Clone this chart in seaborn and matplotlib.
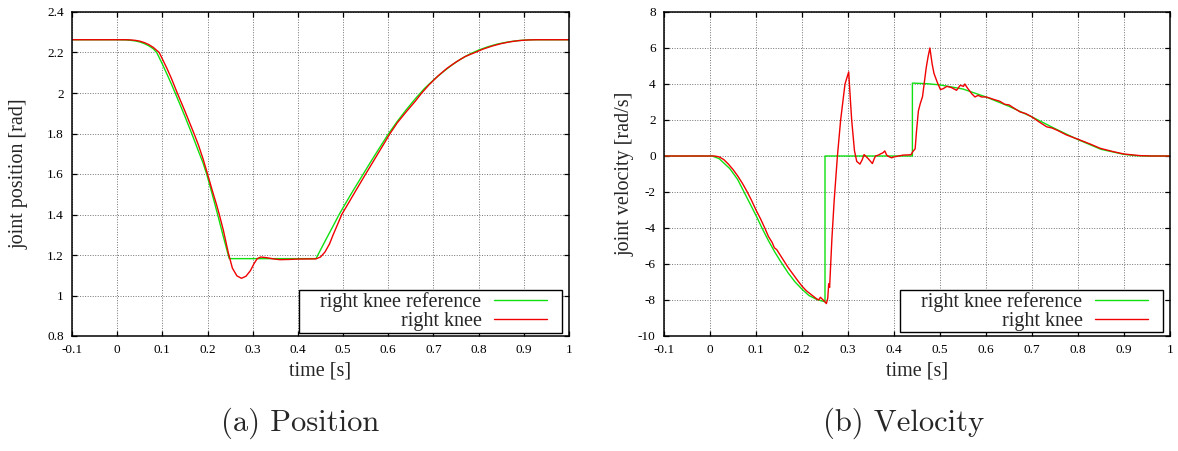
import matplotlib
matplotlib.use("Agg")
import matplotlib.pyplot as plt
from matplotlib.legend_handler import HandlerLine2D
import seaborn as sns
import pandas as pd

# ---------------- joint position [rad] ----------------
t_pos_ref = [-0.1, 0.0, 0.02, 0.03, 0.04, 0.05, 0.06, 0.07, 0.08, 0.0875, 0.10, 0.11,
             0.12, 0.128, 0.14, 0.15, 0.165, 0.18, 0.19, 0.198, 0.21, 0.222, 0.235,
             0.248, 0.44, 0.45, 0.46, 0.47, 0.48, 0.49, 0.50, 0.52, 0.54, 0.56, 0.58,
             0.60, 0.62, 0.64, 0.66, 0.68, 0.70, 0.72, 0.74, 0.76, 0.78, 0.80, 0.82,
             0.84, 0.86, 0.88, 0.90, 0.92, 1.0]
pos_ref = [2.263, 2.263, 2.262, 2.260, 2.257, 2.252, 2.244, 2.233, 2.218, 2.200, 2.143,
           2.094, 2.044, 2.002, 1.938, 1.884, 1.800, 1.712, 1.655, 1.600, 1.503, 1.403,
           1.290, 1.182, 1.182, 1.225, 1.268, 1.310, 1.352, 1.395, 1.434, 1.510, 1.583,
           1.656, 1.727, 1.797, 1.860, 1.918, 1.972, 2.022, 2.064, 2.102, 2.137, 2.167,
           2.192, 2.212, 2.228, 2.241, 2.250, 2.257, 2.261, 2.263, 2.263]

t_pos_act = [-0.1, 0.0, 0.02, 0.03, 0.04, 0.05, 0.06, 0.07, 0.08, 0.093, 0.10, 0.11,
             0.12, 0.133, 0.14, 0.15, 0.17, 0.18, 0.19, 0.20, 0.21, 0.22, 0.226, 0.235,
             0.246, 0.255, 0.265, 0.275, 0.285, 0.295, 0.303, 0.31, 0.318, 0.33, 0.345,
             0.36, 0.38, 0.40, 0.44, 0.45, 0.46, 0.47, 0.478, 0.488, 0.497, 0.51, 0.53,
             0.55, 0.57, 0.59, 0.604, 0.62, 0.64, 0.66, 0.674, 0.69, 0.71, 0.73, 0.75,
             0.77, 0.792, 0.81, 0.83, 0.85, 0.87, 0.89, 0.91, 0.93, 1.0]
pos_act = [2.263, 2.263, 2.263, 2.262, 2.260, 2.256, 2.249, 2.239, 2.225, 2.200, 2.168,
           2.122, 2.072, 2.000, 1.963, 1.910, 1.800, 1.742, 1.675, 1.600, 1.522, 1.448,
           1.400, 1.322, 1.210, 1.135, 1.097, 1.085, 1.095, 1.123, 1.158, 1.182, 1.190,
           1.187, 1.181, 1.177, 1.178, 1.180, 1.181, 1.190, 1.215, 1.255, 1.300, 1.352,
           1.400, 1.449, 1.525, 1.600, 1.674, 1.748, 1.800, 1.853, 1.908, 1.960, 2.000,
           2.040, 2.084, 2.122, 2.153, 2.180, 2.200, 2.217, 2.232, 2.244, 2.253, 2.259,
           2.262, 2.263, 2.263]

# ---------------- joint velocity [rad/s] ----------------
t_vel_ref = [-0.1, 0.005, 0.02, 0.043, 0.06, 0.072, 0.085, 0.10, 0.113, 0.127, 0.14,
             0.152, 0.17, 0.185, 0.20, 0.215, 0.233, 0.25, 0.25, 0.44, 0.44, 0.47, 0.50,
             0.55, 0.60, 0.65, 0.70, 0.75, 0.80, 0.85, 0.90, 0.925, 0.95, 1.0]
vel_ref = [0.0, 0.0, -0.15, -0.7, -1.3, -1.9, -2.55, -3.3, -4.0, -4.7, -5.3, -5.8, -6.5,
           -7.0, -7.4, -7.75, -7.98, -8.1, 0.0, 0.0, 4.05, 4.02, 3.95, 3.72, 3.28, 2.76,
           2.17, 1.52, 0.91, 0.37, 0.09, 0.02, 0.0, 0.0]

t_vel_act = [-0.1, 0.01, 0.02, 0.03, 0.04, 0.05, 0.06, 0.07, 0.08, 0.09, 0.10, 0.11,
             0.12, 0.127, 0.135, 0.14, 0.145, 0.152, 0.16, 0.17, 0.18, 0.19, 0.20, 0.21,
             0.22, 0.23, 0.236, 0.24, 0.244, 0.248, 0.253, 0.256, 0.258, 0.26, 0.265,
             0.27, 0.277, 0.284, 0.2935, 0.3015, 0.305, 0.308, 0.314, 0.319, 0.326,
             0.331, 0.335, 0.34, 0.344, 0.349, 0.353, 0.357, 0.36, 0.366, 0.371, 0.376,
             0.38, 0.384, 0.39, 0.395, 0.40, 0.41, 0.42, 0.43, 0.437, 0.441, 0.446,
             0.449, 0.453, 0.457, 0.462, 0.465, 0.47, 0.474, 0.478, 0.483, 0.487, 0.494,
             0.501, 0.507, 0.515, 0.525, 0.536, 0.544, 0.551, 0.554, 0.559, 0.569, 0.576,
             0.583, 0.59, 0.60, 0.608, 0.616, 0.63, 0.641, 0.65, 0.659, 0.674, 0.686,
             0.70, 0.715, 0.732, 0.743, 0.754, 0.775, 0.80, 0.826, 0.848, 0.877, 0.90,
             0.935, 0.96, 1.0]
vel_act = [0.0, 0.0, -0.05, -0.2, -0.45, -0.75, -1.1, -1.5, -1.95, -2.45, -3.0, -3.5,
           -4.05, -4.47, -4.8, -5.1, -5.2, -5.48, -5.8, -6.2, -6.55, -6.9, -7.23, -7.5,
           -7.7, -7.9, -8.0, -7.85, -7.95, -8.05, -8.2, -7.9, -7.1, -7.3, -4.6, -2.45,
           0.0, 2.0, 4.0, 4.67, 3.2, 2.0, 0.3, -0.3, -0.45, -0.2, 0.08, -0.05, -0.15,
           -0.3, -0.42, -0.15, 0.0, 0.05, 0.12, 0.18, 0.28, 0.05, -0.05, -0.1, -0.05,
           0.0, 0.05, 0.06, 0.07, 0.25, 0.4, 1.4, 2.5, 2.9, 3.3, 3.9, 4.9, 5.5, 6.0,
           5.1, 4.58, 4.1, 3.69, 3.74, 3.87, 3.8, 3.65, 3.93, 3.87, 4.0, 3.8, 3.46,
           3.28, 3.37, 3.28, 3.28, 3.22, 3.15, 3.04, 2.87, 2.84, 2.69, 2.45, 2.36,
           2.17, 1.9, 1.62, 1.56, 1.44, 1.17, 0.93, 0.67, 0.43, 0.24, 0.11, 0.02, 0.0,
           0.0]

x_ticks = [-0.1, 0.0, 0.1, 0.2, 0.3, 0.4, 0.5, 0.6, 0.7, 0.8, 0.9, 1.0]
x_ticklabels = ["-0.1", "0", "0.1", "0.2", "0.3", "0.4", "0.5", "0.6", "0.7", "0.8", "0.9", "1"]
pos_ticks = [0.8, 1.0, 1.2, 1.4, 1.6, 1.8, 2.0, 2.2, 2.4]
pos_ticklabels = ["0.8", "1", "1.2", "1.4", "1.6", "1.8", "2", "2.2", "2.4"]
vel_ticks = [-10, -8, -6, -4, -2, 0, 2, 4, 6, 8]
vel_ticklabels = ["-10", "-8", "-6", "-4", "-2", "0", "2", "4", "6", "8"]

# leading blanks widen the key box on its left, gnuplot style
label_ref = "    right knee reference"
label_act = "right knee"
captions = ["(a) Position", "(b) Velocity"]

GREEN = "#10e010"
RED = "#f00000"


class KeySample(HandlerLine2D):
    """Line sample that fills only the left part of its slot, leaving a right margin."""

    def create_artists(self, legend, orig_handle, xdescent, ydescent, width, height,
                       fontsize, trans):
        return super().create_artists(legend, orig_handle, xdescent, ydescent,
                                      width * 0.8, height, fontsize, trans)


sns.set_theme(style="ticks")
plt.rcParams["font.family"] = ["Liberation Serif", "DejaVu Serif"]
plt.rcParams["axes.linewidth"] = 1.1

fig = plt.figure(figsize=(11.78, 4.51), dpi=100)
ax_pos = fig.add_axes([72 / 1178, 1 - 336 / 451, 497 / 1178, 324 / 451])
ax_vel = fig.add_axes([664 / 1178, 1 - 336 / 451, 506 / 1178, 324 / 451])


def draw(ax, t_ref, y_ref, t_act, y_act, key_anchor):
    ref = pd.DataFrame({"t": t_ref, "v": y_ref})
    act = pd.DataFrame({"t": t_act, "v": y_act})
    sns.lineplot(data=ref, x="t", y="v", ax=ax, color=GREEN, lw=1.0,
                 estimator=None, sort=False, label=label_ref)
    sns.lineplot(data=act, x="t", y="v", ax=ax, color=RED, lw=1.0,
                 estimator=None, sort=False, label=label_act)
    ax.set_xlim(-0.1, 1.0)
    ax.set_xticks(x_ticks)
    ax.set_xticklabels(x_ticklabels)
    ax.grid(True, color="0.45", linestyle=(0, (1, 1.6)), linewidth=0.7)
    ax.set_axisbelow(True)
    ax.tick_params(direction="in", length=3.5, width=0.9, top=True, right=True,
                   labelsize=9.5, pad=6, colors="black")
    for s in ax.spines.values():
        s.set_color("black")
    ax.set_xlabel("time [s]", fontsize=14.5)
    ax.xaxis.set_label_coords(0.5, -0.08)
    handles, labels = ax.get_legend_handles_labels()
    leg = ax.legend(handles, labels, loc="lower right", bbox_to_anchor=key_anchor,
                    markerfirst=False, fontsize=14.5, frameon=True, fancybox=False,
                    framealpha=1.0, edgecolor="black", handlelength=3.3,
                    handletextpad=0.6, labelspacing=0.0, borderpad=0.08,
                    borderaxespad=0.0, handler_map={h: KeySample() for h in handles})
    leg.get_frame().set_linewidth(1.0)


draw(ax_pos, t_pos_ref, pos_ref, t_pos_act, pos_act, (0.9853, 0.0102))
ax_pos.set_ylim(0.8, 2.4)
ax_pos.set_yticks(pos_ticks)
ax_pos.set_yticklabels(pos_ticklabels)
ax_pos.set_ylabel("joint position [rad]", fontsize=14.5)
ax_pos.yaxis.set_label_coords(-0.087, 0.5)

draw(ax_vel, t_vel_ref, vel_ref, t_vel_act, vel_act, (0.9856, 0.0114))
ax_vel.set_ylim(-10, 8)
ax_vel.set_yticks(vel_ticks)
ax_vel.set_yticklabels(vel_ticklabels)
ax_vel.set_ylabel("joint velocity [rad/s]", fontsize=14.5)
ax_vel.yaxis.set_label_coords(-0.058, 0.5)

fig.text(300 / 1178, 1 - 423 / 451, captions[0], fontsize=22, family="cmr10",
         ha="center", va="center")
fig.text(904 / 1178, 1 - 423 / 451, captions[1], fontsize=22, family="cmr10",
         ha="center", va="center")

fig.savefig("out.png", dpi=100, facecolor="white")
